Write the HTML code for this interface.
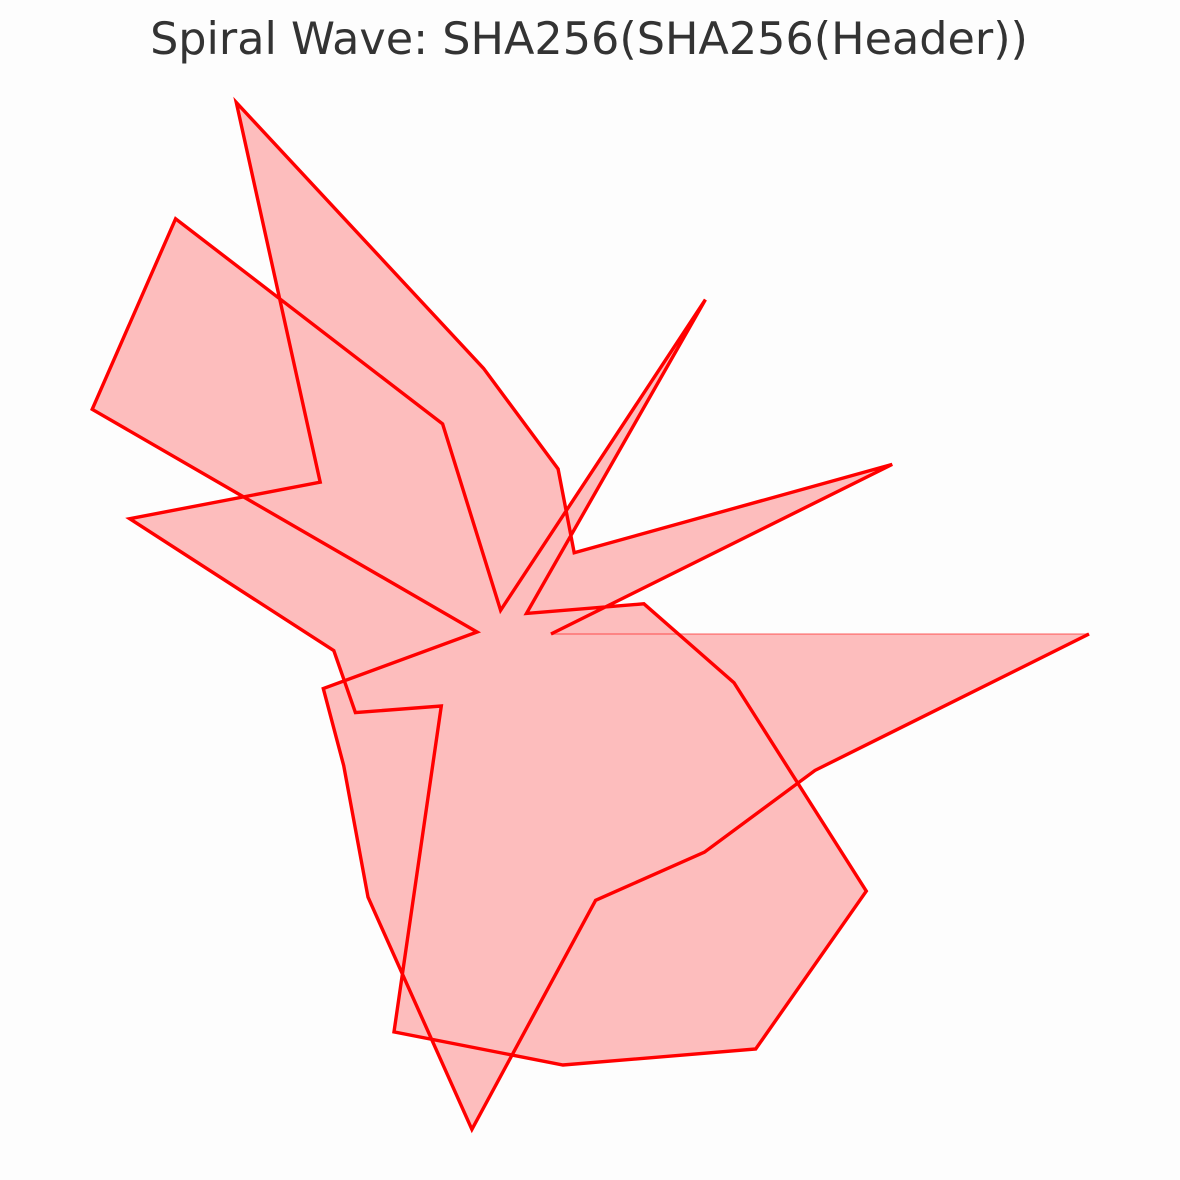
<!DOCTYPE html>
<html><head><meta charset="utf-8"><style>
html,body{margin:0;padding:0;background:#fdfdfd;}
svg{display:block;}
</style></head><body>
<svg id="chart" width="1180" height="1180" viewBox="0 0 1180 1180">
<rect width="1180" height="1180" fill="#fdfdfd"/>
<text x="589" y="54" text-anchor="middle" font-family="'DejaVu Sans','Liberation Sans',sans-serif" font-size="44.5" fill="#333">Spiral Wave: SHA256(SHA256(Header))</text>
<g id="plot"></g>
</svg>
<script>
const radii = [54,430,112,176,266,592,233,385,164,162,91,411,436,489,450,242,150,36,394,24,217,525,463,20,182,202,293,496,284,301,346,592];
const turns = [2];
const cx = 497, cy = 634;
function ang(i){ return i * turns[0] * 2 * Math.PI / (radii.length - 1); }
function px(i){ return cx + radii[i] * Math.cos(ang(i)); }
function py(i){ return cy - radii[i] * Math.sin(ang(i)); }
const pts = radii.map((r,i)=>px(i).toFixed(1)+','+py(i).toFixed(1)).join(' ');
const g = document.getElementById('plot');
const ns = 'http://www.w3.org/2000/svg';
const fill = document.createElementNS(ns,'polygon');
fill.setAttribute('points', pts);
fill.setAttribute('fill', 'rgba(255,0,0,0.25)');
fill.setAttribute('stroke', 'rgba(255,0,0,0.3)');
fill.setAttribute('stroke-width', '2');


g.appendChild(fill);
const line = document.createElementNS(ns,'polyline');
line.setAttribute('points', pts);
line.setAttribute('fill', 'none');
line.setAttribute('stroke', '#ff0000');
line.setAttribute('stroke-width', '3.4');
line.setAttribute('stroke-linejoin', 'miter');


g.appendChild(line);
</script>
</body></html>
